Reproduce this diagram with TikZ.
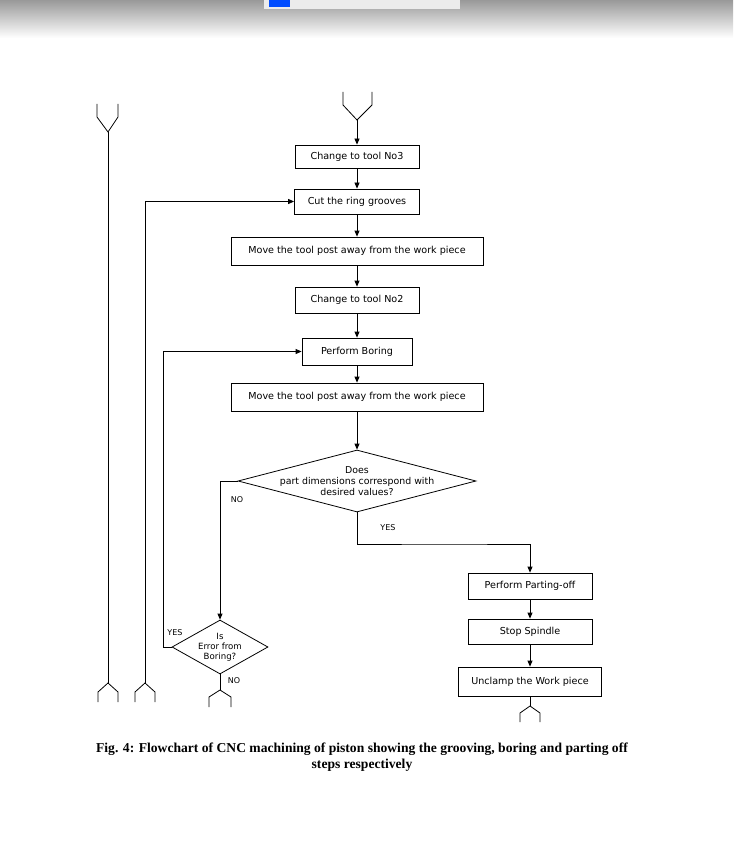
\documentclass[tikz,border=0pt]{standalone}
\usepackage{fontspec}
\setmainfont{Liberation Serif}
\newfontfamily\boxfont{DejaVu Sans}
\usetikzlibrary{arrows.meta,shapes.geometric}
\begin{document}
\begin{tikzpicture}[x=1pt,y=-1pt,
  line width=0.8pt,
  box/.style={draw,rectangle,inner sep=0pt,font=\boxfont\fontsize{9.6}{11}\selectfont},
  dia/.style={draw,diamond,inner sep=0pt},
  dtxt/.style={align=center,inner sep=0pt,font=\boxfont\fontsize{9.4}{11}\selectfont},
  lab/.style={font=\boxfont\fontsize{8}{9}\selectfont},
  arr/.style={-{Triangle[length=6pt,width=5pt]}},
  fork/.style={line width=0.8pt}]
\useasboundingbox (0,0) rectangle (733,850);
\shade[top color=gray!80,bottom color=white] (0,0) rectangle (733,38);
\fill[white!85!gray] (264,0) rectangle (460,9);
\fill[blue!70!cyan] (269,0) rectangle (290,7);
% boxes
\node[box,minimum width=124,minimum height=23] (b1) at (357,156.5) {Change to tool No3};
\node[box,minimum width=125,minimum height=25] (b2) at (357,201.5) {Cut the ring grooves};
\node[box,minimum width=252,minimum height=28] (b3) at (357,251) {Move the tool post away from the work piece};
\node[box,minimum width=124,minimum height=26] (b4) at (357,300) {Change to tool No2};
\node[box,minimum width=110,minimum height=27] (b5) at (357,351.5) {Perform Boring};
\node[box,minimum width=252,minimum height=28] (b6) at (357,397) {Move the tool post away from the work piece};
\node[dia,minimum width=238,minimum height=62,aspect=3.84] (d1) at (357,481) {};
\node[dtxt] (d1t) at (d1.center) {Does\\part dimensions correspond with\\desired values?};
\node[box,minimum width=124,minimum height=26] (b7) at (530,586) {Perform Parting-off};
\node[box,minimum width=124,minimum height=25] (b8) at (530,631.5) {Stop Spindle};
\node[box,minimum width=143,minimum height=29] (b9) at (530,681.5) {Unclamp the Work piece};
\node[dia,minimum width=96,minimum height=54,aspect=1.78] (d2) at (220,647) {};
\node[dtxt,font=\boxfont\fontsize{8.6}{10}\selectfont] (d2t) at (d2.center) {Is\\Error from\\Boring?};
% top fork
\coordinate (t0) at (357,120);
\draw[fork] (343,92)--(343,105)--(t0)--(372,105)--(372,92);
\draw[arr] (t0) -- (b1.north);
\draw[arr] (b1) -- (b2);
\draw[arr] (b2) -- (b3);
\draw[arr] (b3) -- (b4);
\draw[arr] (b4) -- (b5);
\draw[arr] (b5) -- (b6);
\draw[arr] (b6) -- (d1);
\draw[arr] (b7) -- (b8);
\draw[arr] (b8) -- (b9);
% left connector 1
\coordinate (l1t) at (108,132);
\coordinate (l1b) at (108,683);
\draw[fork] (97,104)--(97,117)--(l1t)--(118,117)--(118,104);
\draw (l1t) -- (l1b);
\draw[fork] (98,702)--(98,692)--(l1b)--(118,692)--(118,702);
% left connector 2
\coordinate (l2b) at (145,683);
\draw[arr] (l2b) |- (b2.west);
\draw[fork] (135,702)--(135,692)--(l2b)--(155,692)--(155,702);
% NO from d1
\draw[arr] (d1.west) -| (d2.north);
\node[lab] at (237,500) {NO};
% YES from d1
\draw[arr] (d1.south) |- (445,544) -| (b7.north);
\node[lab] at (388,528) {YES};
% YES from d2
\draw[arr] (d2.west) -| (163,351.5) -- (b5.west);
\node[lab] at (175,633) {YES};
% NO from d2
\coordinate (d2b) at (220,690);
\draw (d2.south) -- (d2b);
\draw[fork] (209,707)--(209,697)--(d2b)--(231,697)--(231,707);
\node[lab] at (234,681) {NO};
% bottom fork
\coordinate (b9b) at (530,706);
\draw (b9.south) -- (b9b);
\draw[fork] (520,722)--(520,713)--(b9b)--(540,713)--(540,722);
% caption
\node[font=\bfseries\fontsize{13.6}{16}\selectfont,align=center] (cap) at (362,757)
 {Fig. 4: Flowchart of CNC machining of piston showing the grooving, boring and parting off\\steps respectively};
\end{tikzpicture}
\end{document}
